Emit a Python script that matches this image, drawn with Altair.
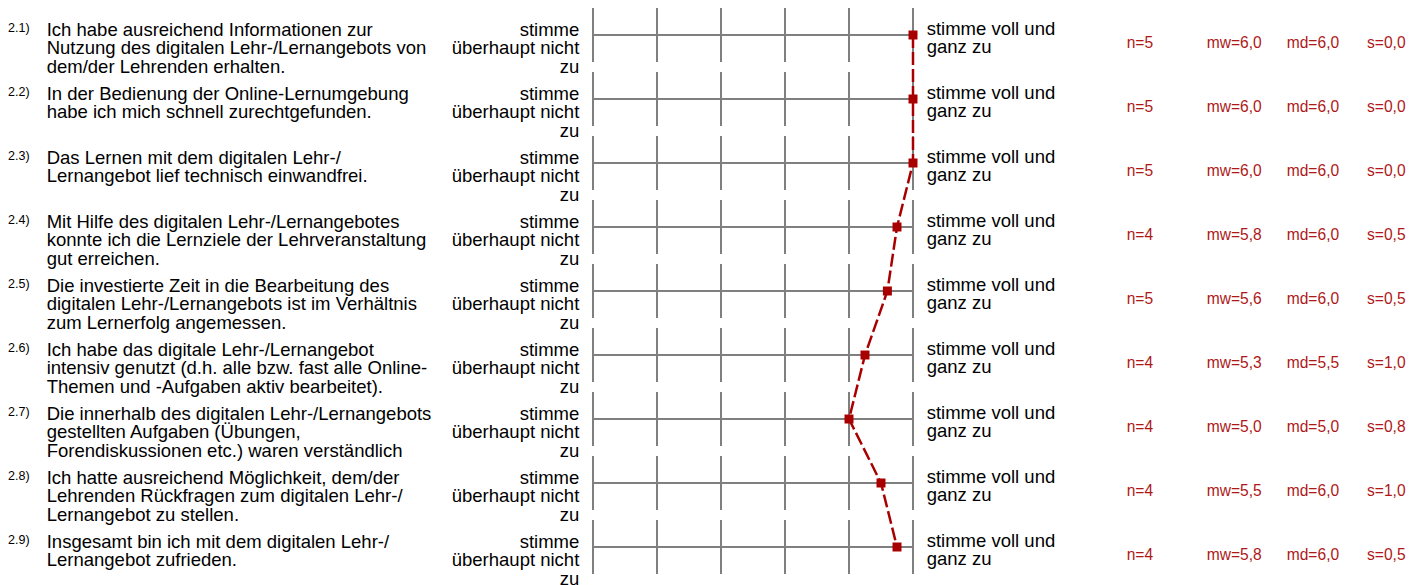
import altair as alt
import pandas as pd
from decimal import Decimal, ROUND_HALF_UP

items = ["2.1)", "2.2)", "2.3)", "2.4)", "2.5)", "2.6)", "2.7)", "2.8)", "2.9)"]
questions = [
    "Ich habe ausreichend Informationen zur\nNutzung des digitalen Lehr-/Lernangebots von\ndem/der Lehrenden erhalten.",
    "In der Bedienung der Online-Lernumgebung\nhabe ich mich schnell zurechtgefunden.",
    "Das Lernen mit dem digitalen Lehr-/\nLernangebot lief technisch einwandfrei.",
    "Mit Hilfe des digitalen Lehr-/Lernangebotes\nkonnte ich die Lernziele der Lehrveranstaltung\ngut erreichen.",
    "Die investierte Zeit in die Bearbeitung des\ndigitalen Lehr-/Lernangebots ist im Verhältnis\nzum Lernerfolg angemessen.",
    "Ich habe das digitale Lehr-/Lernangebot\nintensiv genutzt (d.h. alle bzw. fast alle Online-\nThemen und -Aufgaben aktiv bearbeitet).",
    "Die innerhalb des digitalen Lehr-/Lernangebots\ngestellten Aufgaben (Übungen,\nForendiskussionen etc.) waren verständlich",
    "Ich hatte ausreichend Möglichkeit, dem/der\nLehrenden Rückfragen zum digitalen Lehr-/\nLernangebot zu stellen.",
    "Insgesamt bin ich mit dem digitalen Lehr-/\nLernangebot zufrieden.",
]
left_label = "stimme\nüberhaupt nicht\nzu"
right_label = "stimme voll und\nganz zu"
n_vals = [5, 5, 5, 4, 5, 4, 4, 4, 4]
mw_vals = [6.0, 6.0, 6.0, 5.75, 5.6, 5.25, 5.0, 5.5, 5.75]
md_vals = [6.0, 6.0, 6.0, 6.0, 6.0, 5.5, 5.0, 6.0, 6.0]
s_vals = [0.0, 0.0, 0.0, 0.5, 0.5, 1.0, 0.8, 1.0, 0.5]
scale_ticks = [1, 2, 3, 4, 5, 6]


def fmt(v):
    return str(Decimal(str(v)).quantize(Decimal("0.1"), rounding=ROUND_HALF_UP)).replace(".", ",")


rows = pd.DataFrame({
    "row": list(range(len(items))),
    "item": items,
    "question": questions,
    "left": [left_label] * len(items),
    "right": [right_label] * len(items),
    "mw": mw_vals,
    "n_txt": [f"n={v}" for v in n_vals],
    "mw_txt": ["mw=" + fmt(v) for v in mw_vals],
    "md_txt": ["md=" + fmt(v) for v in md_vals],
    "s_txt": ["s=" + fmt(v) for v in s_vals],
})
grid = pd.DataFrame([{"row": r, "tick": t} for r in range(len(items)) for t in scale_ticks])

W, H = 1399, 577
xs = alt.Scale(domain=[1, 6], range=[585, 905])
ys = alt.Scale(domain=[0, 8], range=[27, 539])
X = lambda f: alt.X(f, type="quantitative", scale=xs, axis=None)
Y = alt.Y("row:Q", scale=ys, axis=None)

GRAY = "#7f7f7f"
RED = "#a80000"
STAT = "#b01818"
FONT = "Liberation Sans"
FS = 18.5
LH = 18.4

base = alt.Chart(rows)

vgrid = alt.Chart(grid).mark_rule(color=GRAY, strokeWidth=2, yOffset=-27, y2Offset=27).encode(
    x=X("tick"), y=Y, y2="row:Q"
)
hline = base.mark_rule(color=GRAY, strokeWidth=2).encode(
    x=alt.X(datum=1, type="quantitative", scale=xs, axis=None), x2=alt.datum(6), y=Y
)
profile = base.mark_line(color=RED, strokeWidth=2.5, strokeDash=[13, 4]).encode(
    x=X("mw"), y=Y, order="row:Q"
)
points = base.mark_square(color=RED, size=81, opacity=1).encode(x=X("mw"), y=Y)

item_txt = base.mark_text(font=FONT, fontSize=12.5, align="left", baseline="alphabetic", yOffset=-3.5, color="black").encode(
    x=alt.value(0), y=Y, text="item:N"
)
q_txt = base.mark_text(font=FONT, fontSize=FS, align="left", baseline="alphabetic", lineBreak="\n", lineHeight=LH, yOffset=1, color="black").encode(
    x=alt.value(38.7), y=Y, text="question:N"
)
l_txt = base.mark_text(font=FONT, fontSize=FS, align="right", baseline="alphabetic", lineBreak="\n", lineHeight=LH, yOffset=1, color="black").encode(
    x=alt.value(571.3), y=Y, text="left:N"
)
r_txt = base.mark_text(font=FONT, fontSize=FS, align="left", baseline="alphabetic", lineBreak="\n", lineHeight=LH, yOffset=0, color="black").encode(
    x=alt.value(918.7), y=Y, text="right:N"
)
stat_layers = []
for field, xpos in [("n_txt", 1118.7), ("mw_txt", 1198.7), ("md_txt", 1278.7), ("s_txt", 1359)]:
    stat_layers.append(
        base.mark_text(font=FONT, fontSize=15.6, align="left", baseline="alphabetic", yOffset=13, color=STAT).encode(
            x=alt.value(xpos), y=Y, text=f"{field}:N"
        )
    )

chart = alt.layer(vgrid, hline, profile, points, item_txt, q_txt, l_txt, r_txt, *stat_layers).properties(
    width=W, height=H, autosize=alt.AutoSizeParams(type="none"), padding=0
).configure_view(strokeWidth=0)

chart.save("out.html", embed_options={"renderer": "svg", "actions": False})
